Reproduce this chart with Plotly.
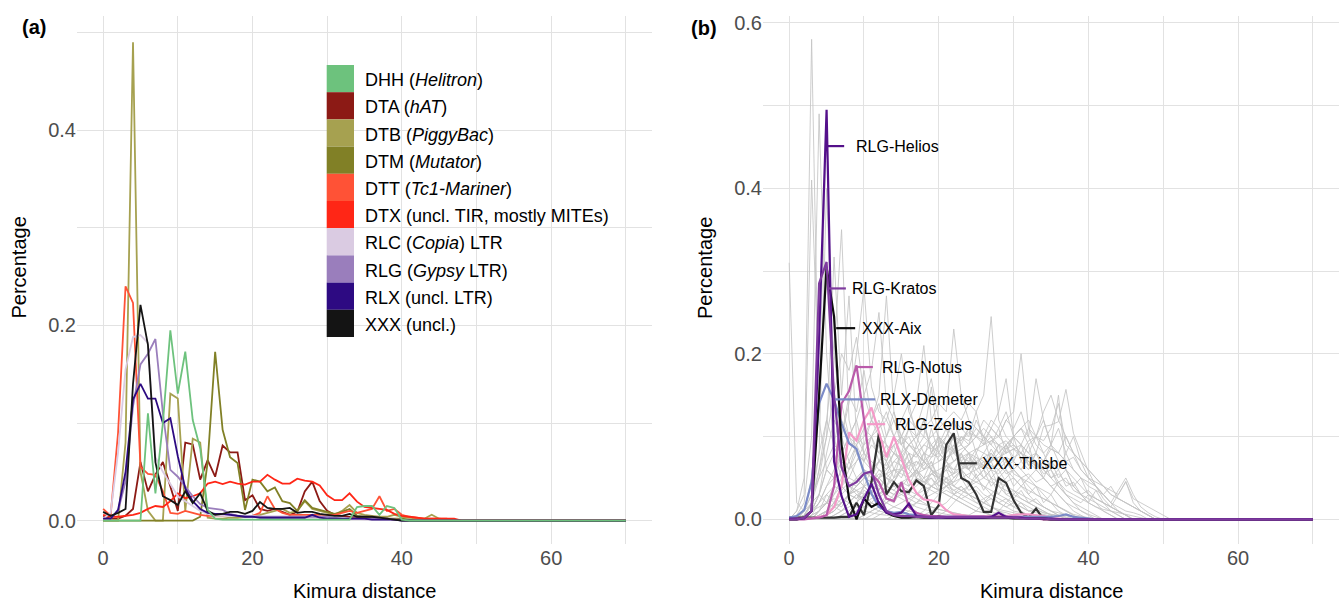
import plotly.graph_objects as go

# ---------------- data ----------------
kimura = list(range(71))
x_tickvals = [0, 10, 20, 30, 40, 50, 60, 70]
x_ticktext = ["0", "", "20", "", "40", "", "60", ""]
ya_tickvals = [0, 0.1, 0.2, 0.3, 0.4, 0.5]
ya_ticktext = ["0.0", "", "0.2", "", "0.4", ""]
yb_tickvals = [0, 0.1, 0.2, 0.3, 0.4, 0.5, 0.6]
yb_ticktext = ["0.0", "", "0.2", "", "0.4", "", "0.6"]

# panel (a): superfamily landscapes (percentage per Kimura-distance bin)
DHH = [0, 0, 0, 0, 0, 0, 0.11, 0.028, 0.10, 0.195, 0.13, 0.173, 0.103, 0.074, 0.011, 0.002, 0.001, 0.001, 0.001, 0.001,
       0.001, 0.001, 0.001, 0.001, 0.001, 0.001, 0.001, 0.001, 0.001, 0.001, 0.001, 0.001, 0.001, 0.001, 0.014, 0.015,
       0.015, 0.006, 0.015, 0.013, 0.001]
DTA = [0.005, 0.002, 0.002, 0.005, 0.012, 0.06, 0.03, 0.047, 0.06, 0.035, 0.01, 0.08, 0.078, 0.042, 0.062, 0.045, 0.077,
       0.07, 0.07, 0.021, 0.026, 0.012, 0.01, 0.012, 0.009, 0.006, 0.009, 0.03, 0.04, 0.02, 0.01, 0.006, 0.005, 0.004,
       0.003, 0.002, 0.002, 0.002, 0.002, 0.001, 0.001]
DTB = [0, 0, 0, 0.08, 0.49, 0.05, 0.01, 0, 0, 0.13, 0.125, 0.01, 0.084, 0.08, 0.003, 0.002, 0.002, 0.003, 0.003, 0.004,
       0.005, 0.006, 0.008, 0.01, 0.012, 0.008, 0.01, 0.02, 0.012, 0.01, 0.008, 0.006, 0.01, 0.016, 0.008, 0.006, 0.005,
       0.004, 0.004, 0.006, 0.004, 0.003, 0.002, 0.002, 0.006, 0.002, 0.001]
DTM = [0, 0, 0, 0, 0, 0, 0, 0, 0, 0, 0, 0, 0, 0.004, 0.06, 0.173, 0.093, 0.065, 0.059, 0.011, 0.042, 0.04, 0.03, 0.034,
       0.02, 0.018, 0.01, 0.021, 0.013, 0.011, 0.009, 0.007, 0.009, 0.012, 0.005, 0.004, 0.003, 0.003, 0.002, 0.002,
       0.002, 0.001]
DTT = [0.012, 0.005, 0.09, 0.24, 0.223, 0.055, 0.048, 0.047, 0.03, 0.008, 0.007, 0.01, 0.008, 0.006, 0.005, 0.005, 0.005,
       0.006, 0.005, 0.005, 0.005, 0.008, 0.025, 0.012, 0.008, 0.006, 0.006, 0.006, 0.006, 0.006, 0.006, 0.006, 0.008,
       0.01, 0.008, 0.01, 0.012, 0.025, 0.01, 0.012, 0.006, 0.004, 0.003, 0.002, 0.002, 0.002, 0.002]
DTX = [0.006, 0.004, 0.004, 0.005, 0.006, 0.008, 0.012, 0.015, 0.014, 0.02, 0.028, 0.023, 0.025, 0.028, 0.038, 0.04,
       0.0375, 0.04, 0.038, 0.037, 0.04, 0.04, 0.047, 0.042, 0.038, 0.038, 0.043, 0.041, 0.04, 0.036, 0.026, 0.021,
       0.021, 0.028, 0.0195, 0.014, 0.013, 0.012, 0.011, 0.007, 0.005, 0.004, 0.003, 0.002, 0.002, 0.002, 0.002, 0.002]
RLC = [0.002, 0.008, 0.07, 0.155, 0.188, 0.19, 0.182, 0.065, 0.05, 0.038, 0.025, 0.02, 0.015, 0.01, 0.007, 0.005, 0.005,
       0.005, 0.005, 0.005, 0.005, 0.004, 0.003, 0.003, 0.003, 0.003, 0.003, 0.003, 0.003, 0.003, 0.002, 0.002, 0.002,
       0.002, 0.002, 0.001, 0.001, 0.001, 0.001, 0.001]
RLG = [0.002, 0.002, 0.01, 0.04, 0.117, 0.16, 0.171, 0.186, 0.11, 0.052, 0.045, 0.035, 0.025, 0.017, 0.013, 0.012, 0.011,
       0.007, 0.005, 0.004, 0.004, 0.004, 0.004, 0.004, 0.004, 0.004, 0.004, 0.004, 0.004, 0.004, 0.004, 0.003, 0.002,
       0.002, 0.002, 0.002, 0.002, 0.002, 0.002, 0.001, 0.001]
RLX = [0.002, 0.002, 0.011, 0.05, 0.124, 0.14, 0.125, 0.125, 0.1, 0.105, 0.066, 0.033, 0.02, 0.012, 0.008, 0.007, 0.007,
       0.006, 0.005, 0.004, 0.004, 0.003, 0.003, 0.003, 0.003, 0.003, 0.003, 0.003, 0.006, 0.003, 0.002, 0.002, 0.002,
       0.002, 0.002, 0.002, 0.001, 0.001, 0.001, 0.001]
XXX = [0.009, 0.005, 0.008, 0.012, 0.14, 0.221, 0.18, 0.06, 0.025, 0.021, 0.016, 0.03, 0.018, 0.028, 0.01, 0.006, 0.007,
       0.009, 0.009, 0.007, 0.01, 0.019, 0.013, 0.012, 0.012, 0.013, 0.008, 0.009, 0.009, 0.007, 0.006, 0.005, 0.005,
       0.007, 0.004, 0.004, 0.004, 0.003, 0.002, 0.001]

sf_codes = ["DHH", "DTA", "DTB", "DTM", "DTT", "DTX", "RLC", "RLG", "RLX", "XXX"]
sf_labels = ["DHH (<i>Helitron</i>)", "DTA (<i>hAT</i>)", "DTB (<i>PiggyBac</i>)", "DTM (<i>Mutator</i>)",
             "DTT (<i>Tc1-Mariner</i>)", "DTX (uncl. TIR, mostly MITEs)", "RLC (<i>Copia</i>) LTR",
             "RLG (<i>Gypsy</i> LTR)", "RLX (uncl. LTR)", "XXX (uncl.)"]
sf_colors = ["#6DC27D", "#8C1A15", "#A6A150", "#818026", "#FF5236", "#FF2616", "#DACBE2", "#9A7EBC", "#2D0A82",
             "#141414"]
sf_values = [DHH, DTA, DTB, DTM, DTT, DTX, RLC, RLG, RLX, XXX]

# panel (b): highlighted families
Helios = [0.001, 0.001, 0.001, 0.01, 0.22, 0.495, 0.07, 0.028, 0.003, 0.006, 0.025, 0.043, 0.019, 0.008, 0.006, 0.008,
          0.019, 0.004, 0.003, 0.002, 0.002, 0.002, 0.002, 0.002, 0.002, 0.002, 0.002, 0.003, 0.008, 0.003, 0.002,
          0.002, 0.001, 0.001, 0.001, 0.001]
Kratos = [0, 0, 0.002, 0.01, 0.285, 0.311, 0.15, 0.063, 0.04, 0.045, 0.055, 0.058, 0.03, 0.01, 0.005, 0.004, 0.004,
          0.003, 0.003, 0.003, 0.003, 0.003, 0.003, 0.003, 0.003, 0.003, 0.003, 0.002, 0.002, 0.002, 0.002, 0.001, 0.001,
          0.001, 0.001]
Aix = [0, 0, 0.002, 0.01, 0.15, 0.305, 0.245, 0.09, 0.025, 0.0, 0.025, 0.015, 0.02, 0.008, 0.004, 0.002, 0.002, 0.003,
       0.002, 0.002, 0.003, 0.002, 0.002, 0.002, 0.002, 0.002, 0.002, 0.002, 0.002, 0.002, 0.001, 0.001, 0.001, 0.001,
       0.001]
Notus = [0, 0, 0, 0.001, 0.002, 0.005, 0.04, 0.14, 0.155, 0.186, 0.12, 0.055, 0.045, 0.025, 0.022, 0.045, 0.015, 0.008,
         0.005, 0.004, 0.004, 0.003, 0.003, 0.003, 0.003, 0.003, 0.003, 0.003, 0.003, 0.003, 0.002, 0.002, 0.001, 0.001]
Demeter = [0.002, 0.004, 0.011, 0.045, 0.14, 0.164, 0.144, 0.116, 0.092, 0.085, 0.056, 0.031, 0.015, 0.01, 0.008, 0.009,
           0.006, 0.005, 0.004, 0.004, 0.003, 0.003, 0.003, 0.003, 0.003, 0.003, 0.003, 0.003, 0.003, 0.003, 0.003,
           0.003, 0.003, 0.003, 0.003, 0.003, 0.004, 0.006, 0.003, 0.002, 0.001]
Zelus = [0.001, 0.001, 0.001, 0.001, 0.003, 0.005, 0.015, 0.04, 0.105, 0.095, 0.12, 0.135, 0.105, 0.075, 0.1, 0.075,
         0.048, 0.032, 0.024, 0.023, 0.02, 0.011, 0.006, 0.005, 0.004, 0.004, 0.004, 0.004, 0.004, 0.004, 0.005, 0.006,
         0.006, 0.005, 0.004, 0.002, 0.001]
Thisbe = [0.002, 0.002, 0.002, 0.002, 0.002, 0.002, 0.002, 0.003, 0.003, 0.02, 0.005, 0.045, 0.104, 0.03, 0.045, 0.034,
          0.033, 0.047, 0.04, 0.005, 0.017, 0.09, 0.104, 0.05, 0.045, 0.03, 0.009, 0.009, 0.05, 0.044, 0.023, 0.008,
          0.002, 0.013, 0.0]

fam_names = ["XXX-Thisbe", "RLG-Zelus", "RLX-Demeter", "RLG-Notus", "XXX-Aix", "RLG-Helios", "RLG-Kratos"]
fam_values = [Thisbe, Zelus, Demeter, Notus, Aix, Helios, Kratos]
fam_colors = ["#333333", "#F49AC8", "#7B8BC7", "#BA5BAA", "#0D0D0D", "#54108A", "#7E3A9E"]

# other families (grey background)
g01 = [0.31, 0.02, 0.01, 0.02, 0.03, 0.02, 0.015, 0.01, 0.02, 0.015, 0.01, 0.008, 0.006, 0.005, 0.004, 0.003, 0.003, 0.002]
g02 = [0, 0.01, 0.05, 0.58, 0.12, 0.06, 0.05, 0.04, 0.03, 0.035, 0.02, 0.015, 0.01, 0.008, 0.006, 0.005, 0.004, 0.003]
g03 = [0, 0.005, 0.02, 0.1, 0.49, 0.2, 0.08, 0.05, 0.04, 0.03, 0.02, 0.02, 0.015, 0.01, 0.008, 0.006, 0.004, 0.003]
g04 = [0, 0.01, 0.03, 0.41, 0.15, 0.48, 0.1, 0.06, 0.04, 0.035, 0.03, 0.02, 0.015, 0.01, 0.008, 0.005, 0.004]
g05 = [0, 0, 0.01, 0.03, 0.08, 0.12, 0.2, 0.35, 0.12, 0.08, 0.06, 0.05, 0.04, 0.035, 0.03, 0.025, 0.02, 0.015, 0.012,
       0.01, 0.008, 0.006, 0.005, 0.004, 0.003]
g06 = [0, 0, 0.005, 0.02, 0.06, 0.1, 0.317, 0.15, 0.27, 0.1, 0.08, 0.07, 0.06, 0.05, 0.04, 0.035, 0.03, 0.025, 0.02,
       0.015, 0.012, 0.01, 0.008, 0.006, 0.005]
g07 = [0, 0, 0, 0.005, 0.02, 0.04, 0.06, 0.08, 0.1, 0.12, 0.15, 0.18, 0.25, 0.14, 0.12, 0.1, 0.09, 0.08, 0.07, 0.06,
       0.05, 0.045, 0.04, 0.035, 0.03, 0.025, 0.02, 0.015, 0.012, 0.01, 0.008, 0.006, 0.004]
g08 = [0, 0, 0.002, 0.01, 0.03, 0.06, 0.08, 0.1, 0.14, 0.2, 0.28, 0.16, 0.13, 0.12, 0.1, 0.09, 0.08, 0.06, 0.05, 0.04,
       0.035, 0.03, 0.025, 0.02, 0.015, 0.01, 0.008, 0.005]
g09 = [0, 0, 0, 0, 0.005, 0.01, 0.02, 0.04, 0.06, 0.07, 0.09, 0.1, 0.11, 0.12, 0.15, 0.2, 0.13, 0.11, 0.1, 0.09, 0.08,
       0.07, 0.06, 0.06, 0.05, 0.045, 0.04, 0.035, 0.03, 0.025, 0.02, 0.015, 0.01, 0.008, 0.006, 0.004]
g10 = [0, 0, 0, 0, 0, 0.005, 0.01, 0.02, 0.03, 0.04, 0.05, 0.06, 0.07, 0.08, 0.09, 0.1, 0.12, 0.11, 0.14, 0.17, 0.12,
       0.11, 0.1, 0.09, 0.08, 0.07, 0.06, 0.05, 0.045, 0.04, 0.035, 0.03, 0.025, 0.02, 0.015, 0.01, 0.008, 0.005, 0.003]
g11 = [0, 0, 0, 0, 0, 0, 0.005, 0.01, 0.015, 0.02, 0.03, 0.04, 0.05, 0.06, 0.07, 0.08, 0.09, 0.1, 0.11, 0.12, 0.14, 0.13,
       0.23, 0.15, 0.12, 0.11, 0.1, 0.09, 0.08, 0.07, 0.06, 0.05, 0.04, 0.03, 0.025, 0.02, 0.015, 0.01, 0.006, 0.004,
       0.002]
g12 = [0, 0, 0, 0, 0, 0, 0, 0, 0.005, 0.01, 0.015, 0.02, 0.03, 0.04, 0.05, 0.06, 0.07, 0.08, 0.09, 0.1, 0.11, 0.12, 0.13,
       0.12, 0.14, 0.13, 0.15, 0.245, 0.12, 0.1, 0.09, 0.08, 0.07, 0.06, 0.05, 0.04, 0.03, 0.02, 0.015, 0.01, 0.006,
       0.003]
g13 = [0, 0, 0, 0, 0, 0, 0, 0, 0, 0, 0.005, 0.01, 0.015, 0.02, 0.025, 0.03, 0.035, 0.04, 0.05, 0.055, 0.06, 0.065, 0.07,
       0.075, 0.08, 0.085, 0.09, 0.095, 0.1, 0.09, 0.1, 0.11, 0.1, 0.08, 0.112, 0.114, 0.118, 0.157, 0.104, 0.08, 0.058,
       0.04, 0.025, 0.015, 0.01, 0.005]
g14 = [0, 0, 0, 0, 0, 0.005, 0.01, 0.02, 0.03, 0.035, 0.04, 0.045, 0.05, 0.055, 0.06, 0.06, 0.065, 0.07, 0.06, 0.075,
       0.08, 0.07, 0.085, 0.09, 0.08, 0.075, 0.07, 0.065, 0.06, 0.07, 0.055, 0.05, 0.045, 0.04, 0.035, 0.03, 0.045,
       0.03, 0.025, 0.02, 0.03, 0.025, 0.02, 0.015, 0.03, 0.046, 0.02, 0.01, 0.005]
g15 = [0, 0, 0.01, 0.03, 0.05, 0.07, 0.09, 0.08, 0.1, 0.09, 0.11, 0.1, 0.12, 0.09, 0.08, 0.1, 0.07, 0.08, 0.06, 0.07,
       0.05, 0.06, 0.04, 0.05, 0.035, 0.04, 0.03, 0.025, 0.02, 0.015, 0.01, 0.008, 0.005, 0.003]
g16 = [0, 0, 0, 0.01, 0.02, 0.04, 0.05, 0.07, 0.06, 0.08, 0.07, 0.09, 0.08, 0.1, 0.13, 0.09, 0.11, 0.1, 0.12, 0.08,
       0.1, 0.09, 0.07, 0.08, 0.06, 0.07, 0.05, 0.06, 0.04, 0.035, 0.03, 0.025, 0.02, 0.015, 0.01, 0.005]
g17 = [0, 0, 0, 0, 0.01, 0.02, 0.03, 0.04, 0.05, 0.045, 0.06, 0.055, 0.07, 0.065, 0.08, 0.075, 0.09, 0.085, 0.1, 0.16,
       0.09, 0.1, 0.12, 0.11, 0.1, 0.13, 0.09, 0.1, 0.08, 0.09, 0.07, 0.06, 0.05, 0.04, 0.03, 0.02, 0.01, 0.005]
g18 = [0, 0, 0, 0, 0, 0, 0.005, 0.01, 0.02, 0.03, 0.025, 0.04, 0.035, 0.05, 0.045, 0.06, 0.055, 0.07, 0.065, 0.08,
       0.075, 0.09, 0.085, 0.1, 0.095, 0.11, 0.1, 0.12, 0.11, 0.13, 0.1, 0.11, 0.09, 0.1, 0.08, 0.09, 0.07, 0.06, 0.05,
       0.04, 0.03, 0.02, 0.01, 0.005]
g19 = [0, 0, 0, 0, 0, 0, 0, 0, 0, 0, 0, 0, 0.005, 0.01, 0.015, 0.02, 0.025, 0.03, 0.035, 0.04, 0.045, 0.05, 0.055, 0.06,
       0.065, 0.07, 0.075, 0.08, 0.07, 0.085, 0.09, 0.08, 0.095, 0.1, 0.09, 0.085, 0.08, 0.07, 0.06, 0.05, 0.045, 0.04,
       0.03, 0.02, 0.035, 0.05, 0.03, 0.015, 0.008, 0.003]
g20 = [0, 0.002, 0.005, 0.01, 0.02, 0.03, 0.04, 0.035, 0.045, 0.04, 0.05, 0.045, 0.055, 0.05, 0.06, 0.055, 0.05, 0.06,
       0.045, 0.05, 0.04, 0.045, 0.035, 0.04, 0.03, 0.035, 0.025, 0.03, 0.02, 0.025, 0.015, 0.02, 0.01, 0.012, 0.008,
       0.006, 0.004, 0.002]
g21 = [0, 0, 0, 0.005, 0.01, 0.02, 0.015, 0.025, 0.02, 0.03, 0.025, 0.035, 0.03, 0.04, 0.035, 0.045, 0.04, 0.05, 0.045,
       0.055, 0.05, 0.06, 0.055, 0.065, 0.06, 0.07, 0.065, 0.06, 0.07, 0.055, 0.06, 0.05, 0.055, 0.045, 0.05, 0.04,
       0.045, 0.035, 0.03, 0.025, 0.02, 0.015, 0.012, 0.01, 0.008, 0.006, 0.004, 0.002]
g22 = [0, 0, 0.01, 0.05, 0.15, 0.3, 0.2, 0.12, 0.1, 0.08, 0.07, 0.06, 0.05, 0.04, 0.035, 0.03, 0.025, 0.02, 0.018,
       0.015, 0.012, 0.01, 0.008, 0.006, 0.004]
g23 = [0, 0, 0, 0.02, 0.08, 0.4, 0.15, 0.1, 0.07, 0.05, 0.04, 0.03, 0.025, 0.02, 0.015, 0.012, 0.01, 0.008, 0.006,
       0.004]
g24 = [0, 0, 0, 0, 0, 0, 0, 0, 0, 0, 0, 0, 0, 0, 0, 0.005, 0.01, 0.02, 0.03, 0.04, 0.05, 0.06, 0.07, 0.08, 0.09, 0.1,
       0.09, 0.11, 0.1, 0.12, 0.11, 0.13, 0.1, 0.17, 0.12, 0.09, 0.15, 0.06, 0.04, 0.03, 0.02, 0.035, 0.02, 0.01, 0.005]
g25 = [0, 0, 0, 0.01, 0.03, 0.06, 0.05, 0.08, 0.06, 0.09, 0.07, 0.1, 0.08, 0.07, 0.09, 0.06, 0.08, 0.05, 0.07, 0.06,
       0.04, 0.05, 0.03, 0.04, 0.03, 0.02, 0.025, 0.015, 0.01, 0.008, 0.005]
g26 = [0, 0, 0, 0, 0.005, 0.01, 0.02, 0.015, 0.03, 0.025, 0.04, 0.03, 0.05, 0.04, 0.06, 0.05, 0.07, 0.055, 0.08, 0.06,
       0.09, 0.07, 0.085, 0.065, 0.075, 0.06, 0.07, 0.05, 0.06, 0.045, 0.05, 0.04, 0.035, 0.03, 0.025, 0.02, 0.015,
       0.01, 0.005]
g27 = [0, 0, 0, 0, 0, 0, 0, 0.005, 0.01, 0.02, 0.03, 0.04, 0.035, 0.05, 0.045, 0.06, 0.07, 0.065, 0.08, 0.075, 0.09,
       0.11, 0.08, 0.1, 0.09, 0.12, 0.1, 0.09, 0.11, 0.08, 0.1, 0.07, 0.09, 0.06, 0.07, 0.05, 0.06, 0.04, 0.045, 0.03,
       0.025, 0.02, 0.015, 0.01, 0.005]
g28 = [0, 0, 0, 0, 0, 0, 0, 0, 0, 0, 0, 0, 0, 0, 0, 0, 0, 0.005, 0.01, 0.02, 0.03, 0.04, 0.05, 0.06, 0.07, 0.065, 0.08,
       0.075, 0.09, 0.085, 0.1, 0.09, 0.11, 0.1, 0.12, 0.09, 0.11, 0.08, 0.1, 0.07, 0.05, 0.04, 0.03, 0.02, 0.015, 0.01,
       0.008, 0.005]
g29 = [0, 0, 0, 0, 0, 0, 0, 0, 0, 0, 0.005, 0.01, 0.015, 0.025, 0.02, 0.035, 0.03, 0.045, 0.04, 0.055, 0.05, 0.065,
       0.06, 0.075, 0.07, 0.085, 0.08, 0.095, 0.09, 0.08, 0.085, 0.075, 0.07, 0.065, 0.06, 0.05, 0.055, 0.045, 0.04,
       0.03, 0.035, 0.025, 0.02, 0.015, 0.01, 0.005]
g30 = [0, 0, 0.005, 0.02, 0.05, 0.1, 0.15, 0.2, 0.18, 0.22, 0.15, 0.12, 0.1, 0.09, 0.08, 0.07, 0.06, 0.05, 0.045, 0.04,
       0.035, 0.03, 0.025, 0.02, 0.015, 0.01, 0.008, 0.005]
g31 = [0, 0, 0, 0.01, 0.03, 0.08, 0.12, 0.1, 0.15, 0.13, 0.18, 0.12, 0.14, 0.1, 0.12, 0.09, 0.1, 0.08, 0.07, 0.06, 0.05,
       0.04, 0.035, 0.03, 0.025, 0.02, 0.015, 0.01, 0.005]
g32 = [0, 0, 0, 0, 0.01, 0.02, 0.04, 0.06, 0.08, 0.1, 0.09, 0.12, 0.11, 0.13, 0.1, 0.12, 0.14, 0.1, 0.11, 0.09, 0.1,
       0.08, 0.09, 0.07, 0.08, 0.06, 0.05, 0.045, 0.04, 0.03, 0.025, 0.02, 0.015, 0.01, 0.005]
g33 = [0, 0, 0, 0, 0.005, 0.01, 0.03, 0.05, 0.07, 0.09, 0.1, 0.12, 0.15, 0.27, 0.13, 0.1, 0.09, 0.08, 0.07, 0.06, 0.055,
       0.05, 0.04, 0.035, 0.03, 0.025, 0.02, 0.015, 0.01, 0.005]
g34 = [0, 0, 0, 0, 0, 0, 0, 0, 0.005, 0.01, 0.02, 0.025, 0.03, 0.035, 0.04, 0.045, 0.05, 0.055, 0.06, 0.065, 0.07,
       0.075, 0.08, 0.085, 0.09, 0.1, 0.095, 0.11, 0.1, 0.12, 0.13, 0.2, 0.11, 0.09, 0.08, 0.06, 0.04, 0.03, 0.02, 0.015,
       0.01, 0.005]
g35 = [0, 0, 0, 0, 0, 0, 0, 0, 0, 0, 0, 0.005, 0.01, 0.02, 0.03, 0.04, 0.05, 0.06, 0.07, 0.08, 0.09, 0.085, 0.1, 0.095,
       0.11, 0.1, 0.12, 0.11, 0.13, 0.17, 0.1, 0.09, 0.08, 0.07, 0.05, 0.04, 0.03, 0.02, 0.01, 0.005]
g36 = [0, 0, 0, 0, 0, 0, 0, 0, 0, 0, 0, 0, 0, 0, 0.005, 0.01, 0.015, 0.02, 0.025, 0.03, 0.035, 0.04, 0.045, 0.05, 0.055,
       0.06, 0.065, 0.07, 0.075, 0.08, 0.085, 0.09, 0.08, 0.1, 0.095, 0.11, 0.14, 0.09, 0.08, 0.07, 0.06, 0.05, 0.04,
       0.03, 0.025, 0.02, 0.015, 0.01, 0.005]
g37 = [0, 0, 0, 0, 0, 0, 0, 0, 0, 0, 0, 0, 0, 0, 0, 0, 0, 0, 0.005, 0.01, 0.015, 0.02, 0.03, 0.035, 0.04, 0.045, 0.05,
       0.06, 0.055, 0.065, 0.07, 0.06, 0.075, 0.08, 0.07, 0.085, 0.08, 0.07, 0.075, 0.06, 0.05, 0.045, 0.04, 0.035,
       0.03, 0.045, 0.025, 0.02, 0.015, 0.01, 0.005]
g38 = [0, 0, 0.005, 0.01, 0.015, 0.02, 0.025, 0.02, 0.03, 0.025, 0.035, 0.03, 0.025, 0.035, 0.03, 0.04, 0.035, 0.03,
       0.04, 0.035, 0.03, 0.035, 0.03, 0.025, 0.03, 0.025, 0.02, 0.025, 0.02, 0.015, 0.02, 0.015, 0.01, 0.012, 0.008,
       0.006, 0.005, 0.003]
g39 = [0, 0, 0, 0, 0, 0.01, 0.02, 0.03, 0.04, 0.05, 0.06, 0.05, 0.07, 0.06, 0.08, 0.07, 0.09, 0.1, 0.08, 0.09, 0.07,
       0.08, 0.1, 0.07, 0.06, 0.08, 0.06, 0.07, 0.05, 0.06, 0.04, 0.05, 0.03, 0.04, 0.02, 0.03, 0.015, 0.01, 0.005]
g40 = [0, 0, 0, 0, 0, 0.005, 0.01, 0.02, 0.03, 0.04, 0.05, 0.06, 0.07, 0.08, 0.09, 0.1, 0.12, 0.14, 0.21, 0.12, 0.1,
       0.09, 0.08, 0.07, 0.06, 0.05, 0.04, 0.03, 0.025, 0.02, 0.015, 0.01, 0.005]
g41 = [0, 0, 0, 0, 0, 0, 0, 0, 0, 0, 0, 0, 0, 0, 0, 0, 0, 0, 0, 0, 0.005, 0.01, 0.02, 0.03, 0.04, 0.05, 0.06, 0.07,
       0.08, 0.09, 0.1, 0.11, 0.12, 0.1, 0.13, 0.15, 0.12, 0.1, 0.08, 0.06, 0.05, 0.04, 0.03, 0.02, 0.01, 0.005]
g42 = [0, 0, 0, 0, 0.005, 0.01, 0.015, 0.02, 0.03, 0.04, 0.05, 0.045, 0.06, 0.055, 0.07, 0.065, 0.08, 0.075, 0.09,
       0.085, 0.095, 0.09, 0.1, 0.095, 0.105, 0.1, 0.11, 0.1, 0.09, 0.095, 0.085, 0.08, 0.075, 0.07, 0.06, 0.05, 0.04,
       0.03, 0.02, 0.01, 0.005]
g43 = [0, 0, 0, 0, 0, 0, 0, 0, 0, 0, 0, 0, 0, 0, 0, 0, 0, 0, 0, 0, 0, 0, 0, 0, 0.005, 0.01, 0.02, 0.03, 0.04, 0.05,
       0.06, 0.07, 0.06, 0.08, 0.07, 0.09, 0.08, 0.1, 0.08, 0.07, 0.06, 0.05, 0.04, 0.03, 0.025, 0.02, 0.015, 0.01,
       0.005]
g44 = [0, 0, 0, 0.005, 0.01, 0.02, 0.04, 0.06, 0.05, 0.07, 0.08, 0.06, 0.09, 0.07, 0.1, 0.08, 0.11, 0.09, 0.12, 0.08,
       0.1, 0.07, 0.09, 0.06, 0.08, 0.05, 0.06, 0.04, 0.05, 0.03, 0.035, 0.025, 0.02, 0.015, 0.01, 0.005]
g45 = [0, 0, 0, 0, 0.01, 0.03, 0.02, 0.04, 0.03, 0.05, 0.04, 0.06, 0.035, 0.055, 0.045, 0.065, 0.04, 0.06, 0.05, 0.07,
       0.045, 0.065, 0.05, 0.06, 0.04, 0.055, 0.035, 0.05, 0.03, 0.045, 0.025, 0.035, 0.02, 0.025, 0.015, 0.01, 0.005]
g46 = [0, 0, 0, 0, 0, 0, 0, 0, 0, 0.005, 0.01, 0.02, 0.015, 0.03, 0.025, 0.04, 0.03, 0.05, 0.04, 0.06, 0.05, 0.07,
       0.055, 0.08, 0.06, 0.075, 0.065, 0.085, 0.07, 0.09, 0.075, 0.08, 0.065, 0.07, 0.055, 0.06, 0.045, 0.05, 0.035,
       0.03, 0.02, 0.015, 0.01, 0.005]
g47 = [0, 0, 0, 0, 0, 0, 0, 0.005, 0.01, 0.02, 0.04, 0.03, 0.05, 0.07, 0.05, 0.08, 0.06, 0.09, 0.07, 0.11, 0.08, 0.1,
       0.12, 0.09, 0.11, 0.08, 0.1, 0.07, 0.09, 0.06, 0.05, 0.04, 0.03, 0.02, 0.015, 0.01, 0.005]
g48 = [0, 0, 0, 0, 0, 0, 0, 0, 0, 0, 0, 0, 0, 0, 0.005, 0.01, 0.02, 0.03, 0.025, 0.04, 0.035, 0.05, 0.045, 0.06, 0.05,
       0.07, 0.06, 0.08, 0.065, 0.075, 0.07, 0.09, 0.065, 0.08, 0.06, 0.07, 0.05, 0.06, 0.04, 0.05, 0.03, 0.025, 0.02,
       0.015, 0.01, 0.005]
g49 = [0, 0, 0.005, 0.02, 0.06, 0.12, 0.09, 0.14, 0.1, 0.12, 0.08, 0.1, 0.07, 0.09, 0.06, 0.08, 0.05, 0.06, 0.04, 0.05,
       0.035, 0.04, 0.03, 0.025, 0.02, 0.015, 0.01, 0.005]
g50 = [0, 0, 0, 0, 0, 0, 0, 0, 0, 0, 0, 0, 0, 0, 0, 0, 0, 0, 0, 0, 0, 0, 0, 0, 0, 0, 0, 0.005, 0.01, 0.02, 0.03, 0.04,
       0.05, 0.06, 0.05, 0.07, 0.06, 0.08, 0.06, 0.05, 0.04, 0.035, 0.03, 0.04, 0.025, 0.02, 0.015, 0.01, 0.005]
grey_families = [g01, g02, g03, g04, g05, g06, g07, g08, g09, g10, g11, g12, g13, g14, g15, g16, g17, g18, g19, g20,
                 g21, g22, g23, g24, g25, g26, g27, g28, g29, g30, g31, g32, g33, g34, g35, g36, g37, g38, g39, g40,
                 g41, g42, g43, g44, g45, g46, g47, g48, g49, g50]


def full(vals):
    """Bins beyond the listed ones are empty (0 %)."""
    return list(vals) + [0.0] * (len(kimura) - len(vals))


# ---------------- figure ----------------
W, H = 1341, 602
FONT = "Liberation Sans, Arial, Helvetica, sans-serif"


def px(x):
    return x / W


def py(y):
    return 1 - y / H


fig = go.Figure()

# panel (a): draw DHH last (on top)
order_a = [1, 2, 3, 4, 5, 6, 7, 8, 9, 0]
for i in order_a:
    fig.add_trace(go.Scatter(x=kimura, y=full(sf_values[i]), mode="lines", name=sf_codes[i],
                             line=dict(color=sf_colors[i], width=1.8), xaxis="x", yaxis="y",
                             showlegend=False, hoverinfo="skip"))

# panel (b): grey background families
for g in grey_families:
    fig.add_trace(go.Scatter(x=kimura, y=full(g), mode="lines", line=dict(color="#C4C4C4", width=0.85),
                             xaxis="x2", yaxis="y2", showlegend=False, hoverinfo="skip"))
for name, vals, col in zip(fam_names, fam_values, fam_colors):
    fig.add_trace(go.Scatter(x=kimura, y=full(vals), mode="lines", name=name, line=dict(color=col, width=2.2),
                             xaxis="x2", yaxis="y2", showlegend=False, hoverinfo="skip"))

GRID = "#E2E2E2"
tickfont = dict(family=FONT, size=20, color="#4D4D4D")
ydom = [py(544), py(16)]

common_x = dict(range=[-3.5, 73.5], tickmode="array", tickvals=x_tickvals, ticktext=x_ticktext, showgrid=True,
                gridcolor=GRID, gridwidth=1, zeroline=False, showline=False, ticks="", tickfont=tickfont,
                fixedrange=True)
common_y = dict(tickmode="array", showgrid=True, gridcolor=GRID, gridwidth=1, zeroline=False, showline=False,
                ticks="", tickfont=tickfont, fixedrange=True, domain=ydom)

fig.update_layout(
    width=W, height=H, margin=dict(l=0, r=0, t=0, b=0, autoexpand=False),
    paper_bgcolor="white", plot_bgcolor="white", font=dict(family=FONT),
    xaxis=dict(common_x, domain=[px(77), px(652)], anchor="y"),
    yaxis=dict(common_y, range=[-0.0239, 0.5168], anchor="x", tickvals=ya_tickvals, ticktext=ya_ticktext),
    xaxis2=dict(common_x, domain=[px(763), px(1339)], anchor="y2"),
    yaxis2=dict(common_y, range=[-0.0298, 0.6082], anchor="x2", tickvals=yb_tickvals, ticktext=yb_ticktext),
    showlegend=False,
)

ann = []
shapes = []
# axis titles
for cx in [(77 + 652) / 2, (763 + 1339) / 2]:
    ann.append(dict(text="Kimura distance", x=px(cx), y=py(591), xref="paper", yref="paper", showarrow=False,
                    xanchor="center", yanchor="middle", font=dict(family=FONT, size=20, color="black")))
for cx in [18.5, 705]:
    ann.append(dict(text="Percentage", x=px(cx), y=py(268), xref="paper", yref="paper", showarrow=False,
                    textangle=-90, xanchor="center", yanchor="middle", font=dict(family=FONT, size=20, color="black")))
# panel tags
ann.append(dict(text="<b>(a)</b>", x=px(33.5), y=py(27), xref="paper", yref="paper", showarrow=False,
                xanchor="center", yanchor="middle", font=dict(family=FONT, size=20, color="black")))
ann.append(dict(text="<b>(b)</b>", x=px(704), y=py(28), xref="paper", yref="paper", showarrow=False,
                xanchor="center", yanchor="middle", font=dict(family=FONT, size=20, color="black")))

# legend of panel (a): filled keys + labels
key_top, key_h = 65, 27.2
for i, (lab, col) in enumerate(zip(sf_labels, sf_colors)):
    y0 = key_top + i * key_h
    shapes.append(dict(type="rect", xref="paper", yref="paper", x0=px(326.7), x1=px(354), y0=py(y0),
                       y1=py(y0 + key_h), fillcolor=col, line=dict(width=0)))
    ann.append(dict(text=lab, x=px(362.5), y=py(y0 + key_h / 2 + 1.5), xref="paper", yref="paper", showarrow=False,
                    xanchor="left", yanchor="middle", font=dict(family=FONT, size=18, color="black")))

# repelled labels in panel (b): (name, colour, segment x0, x1, y, text x)
label_pos = [
    ("RLG-Helios", "#54108A", 5.04, 7.35, 0.451, 8.6),
    ("RLG-Kratos", "#7E3A9E", 5.3, 7.58, 0.279, 8.16),
    ("XXX-Aix", "#0D0D0D", 6.28, 8.82, 0.231, 9.49),
    ("RLG-Notus", "#BA5BAA", 8.82, 11.19, 0.184, 12.17),
    ("RLX-Demeter", "#7B8BC7", 6.15, 11.5, 0.145, 11.9),
    ("RLG-Zelus", "#F49AC8", 10.39, 12.83, 0.115, 13.86),
    ("XXX-Thisbe", "#333333", 22.73, 25.09, 0.0677, 25.53),
]
for name, col, sx0, sx1, sy, tx in label_pos:
    shapes.append(dict(type="line", xref="x2", yref="y2", x0=sx0, x1=sx1, y0=sy, y1=sy,
                       line=dict(color=col, width=2.2)))
    ann.append(dict(text=name, x=tx, y=sy, xref="x2", yref="y2", showarrow=False, xanchor="left",
                    yanchor="middle", font=dict(family=FONT, size=16, color="black")))

fig.update_layout(annotations=ann, shapes=shapes)
fig.write_html("out.html", config={"displayModeBar": False, "staticPlot": True},
               post_script="document.body.style.margin='0';document.body.style.padding='0';"
                           "document.body.style.overflow='hidden';")
